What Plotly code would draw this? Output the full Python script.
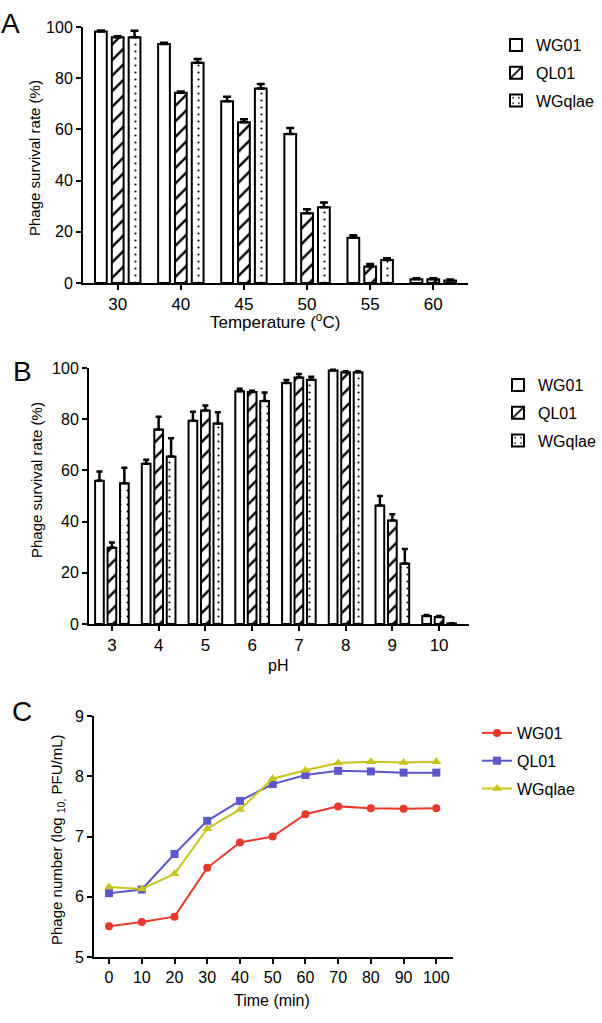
import plotly.graph_objects as go

W, H = 602, 1023

# ---------------- Data ----------------
series = ["WG01", "QL01", "WGqlae"]

temp_cats = ["30", "40", "45", "50", "55", "60"]
temp_wg01 = [98.2, 93.4, 71.0, 58.2, 17.7, 1.5]
temp_ql01 = [96.0, 74.3, 62.8, 27.2, 6.4, 1.5]
temp_wgqlae = [96.0, 86.0, 76.0, 29.6, 9.0, 1.0]
temp_wg01_err = [0.4, 0.4, 1.8, 2.3, 1.0, 0.4]
temp_ql01_err = [0.4, 0.5, 1.2, 1.6, 1.0, 0.4]
temp_wgqlae_err = [2.5, 1.5, 1.7, 1.8, 0.7, 0.4]

ph_cats = ["3", "4", "5", "6", "7", "8", "9", "10"]
ph_wg01 = [56.0, 62.6, 79.4, 90.9, 94.1, 99.0, 46.3, 3.1]
ph_ql01 = [29.8, 76.0, 83.4, 90.6, 96.3, 98.3, 40.4, 2.7]
ph_wgqlae = [55.0, 65.4, 78.3, 87.1, 95.4, 98.3, 23.6, 0.2]
ph_wg01_err = [3.6, 1.6, 3.5, 1.0, 1.2, 0.3, 3.7, 0.4]
ph_ql01_err = [2.0, 5.0, 2.0, 0.5, 1.4, 0.4, 2.5, 0.4]
ph_wgqlae_err = [6.0, 7.2, 4.4, 3.3, 1.2, 0.4, 5.7, 0.1]

time_min = [0, 10, 20, 30, 40, 50, 60, 70, 80, 90, 100]
curve_wg01 = [5.51, 5.58, 5.67, 6.48, 6.90, 7.00, 7.37, 7.50, 7.47, 7.46, 7.47]
curve_ql01 = [6.06, 6.12, 6.71, 7.26, 7.59, 7.87, 8.02, 8.09, 8.08, 8.06, 8.06]
curve_wgqlae = [6.16, 6.13, 6.38, 7.13, 7.45, 7.96, 8.10, 8.22, 8.24, 8.23, 8.24]

# ---------------- Styles ----------------
FONT = "Liberation Sans, Arial, sans-serif"
patterns = [dict(shape=""),
            dict(shape="/", size=11, solidity=0.22, fgcolor="black", bgcolor="white"),
            dict(shape=".", size=7, solidity=0.07, fgcolor="black", bgcolor="white")]
line_colors = ["#e8372b", "#5b56c9", "#c9c41c"]
symbols = ["circle", "square", "triangle-up"]


def px_x(p):
    return p / W


def px_y(p):
    return 1 - p / H


fig = go.Figure()

# Panel A
for name, vals, errs, pat in zip(series, [temp_wg01, temp_ql01, temp_wgqlae],
                                 [temp_wg01_err, temp_ql01_err, temp_wgqlae_err], patterns):
    fig.add_trace(go.Bar(
        x=temp_cats, y=vals, name=name, xaxis="x", yaxis="y", legend="legend",
        legendgroup="a" + name,
        marker=dict(color="white", line=dict(color="black", width=2), pattern=pat),
        error_y=dict(type="data", symmetric=False, array=errs, arrayminus=[0] * len(errs),
                     color="black", thickness=2.5, width=4),
    ))

# Panel B
for name, vals, errs, pat in zip(series, [ph_wg01, ph_ql01, ph_wgqlae],
                                 [ph_wg01_err, ph_ql01_err, ph_wgqlae_err], patterns):
    fig.add_trace(go.Bar(
        x=ph_cats, y=vals, name=name, xaxis="x2", yaxis="y2", legend="legend2",
        legendgroup="b" + name,
        marker=dict(color="white", line=dict(color="black", width=2), pattern=pat),
        error_y=dict(type="data", symmetric=False, array=errs, arrayminus=[0] * len(errs),
                     color="black", thickness=2.5, width=3),
    ))

# Panel C
for name, vals, col, sym in zip(series, [curve_wg01, curve_ql01, curve_wgqlae], line_colors, symbols):
    fig.add_trace(go.Scatter(
        x=time_min, y=vals, name=name, xaxis="x3", yaxis="y3", legend="legend3",
        legendgroup="c" + name, mode="lines+markers",
        line=dict(color=col, width=2),
        marker=dict(symbol=sym, size=8 if sym != "triangle-up" else 9, color=col),
    ))

axis_common = dict(showline=True, linecolor="black", linewidth=2, ticks="outside",
                   tickwidth=2, ticklen=5, tickcolor="black", showgrid=False, zeroline=False,
                   automargin=False,
                   tickfont=dict(family=FONT, size=16, color="black"))
xfont = dict(family=FONT, size=17, color="black")

fig.update_layout(
    template="none",
    width=W, height=H, margin=dict(l=0, r=0, t=0, b=0, pad=0),
    paper_bgcolor="white", plot_bgcolor="white",
    barmode="group", bargap=0.2, bargroupgap=0.3,
    showlegend=True,
    font=dict(family=FONT, color="black"),
    xaxis=dict(axis_common, domain=[px_x(83), px_x(468)], anchor="y", type="category",
               range=[-0.55, 5.55], tickfont=xfont),
    yaxis=dict(axis_common, domain=[px_y(283), px_y(27)], anchor="x", range=[0, 100],
               tickvals=[0, 20, 40, 60, 80, 100]),
    xaxis2=dict(axis_common, domain=[px_x(89), px_x(469)], anchor="y2", type="category",
                range=[-0.49, 7.64], tickfont=xfont),
    yaxis2=dict(axis_common, domain=[px_y(624), px_y(368)], anchor="x2", range=[0, 100],
                tickvals=[0, 20, 40, 60, 80, 100]),
    xaxis3=dict(axis_common, domain=[px_x(94), px_x(453)], anchor="y3", range=[-4.6, 105.1],
                tickvals=time_min),
    yaxis3=dict(axis_common, domain=[px_y(957), px_y(716)], anchor="x3", range=[5, 9],
                tickvals=[5, 6, 7, 8, 9]),
    legend=dict(x=px_x(496), y=px_y(28), xanchor="left", yanchor="top",
                font=dict(family=FONT, size=16), tracegroupgap=4, bgcolor="rgba(0,0,0,0)"),
    legend2=dict(x=px_x(498), y=px_y(368), xanchor="left", yanchor="top",
                 font=dict(family=FONT, size=16), tracegroupgap=4, bgcolor="rgba(0,0,0,0)"),
    legend3=dict(x=px_x(477), y=px_y(716), xanchor="left", yanchor="top",
                 font=dict(family=FONT, size=16), tracegroupgap=4, bgcolor="rgba(0,0,0,0)"),
)

annotations = [
    dict(text="A", x=px_x(-1), y=px_y(24), xanchor="left", yanchor="middle", font=dict(size=28)),
    dict(text="B", x=px_x(11), y=px_y(371), xanchor="left", yanchor="middle", font=dict(size=28)),
    dict(text="C", x=px_x(10), y=px_y(711), xanchor="left", yanchor="middle", font=dict(size=28)),
    dict(text="Phage survival rate (%)", x=px_x(35), y=px_y(158), textangle=-90,
         xanchor="center", yanchor="middle", font=dict(size=15)),
    dict(text="Phage survival rate (%)", x=px_x(36), y=px_y(480), textangle=-90,
         xanchor="center", yanchor="middle", font=dict(size=15)),
    dict(text="Phage number (log <sub>10,</sub> PFU/mL)", x=px_x(57), y=px_y(840), textangle=-90,
         xanchor="center", yanchor="middle", font=dict(size=15)),
    dict(text="Temperature (<sup>o</sup>C)", x=px_x(275), y=px_y(321),
         xanchor="center", yanchor="middle", font=dict(size=17)),
    dict(text="pH", x=px_x(278), y=px_y(665), xanchor="center", yanchor="middle", font=dict(size=16)),
    dict(text="Time (min)", x=px_x(272), y=px_y(1000), xanchor="center", yanchor="middle",
         font=dict(size=16)),
]
for a in annotations:
    a.update(xref="paper", yref="paper", showarrow=False)
    a["font"].update(family=FONT, color="black")
fig.update_layout(annotations=annotations)

fig.write_html("out.html", config={"responsive": False, "displayModeBar": False},
               post_script="document.body.style.margin='0';document.body.style.overflow='hidden';")
